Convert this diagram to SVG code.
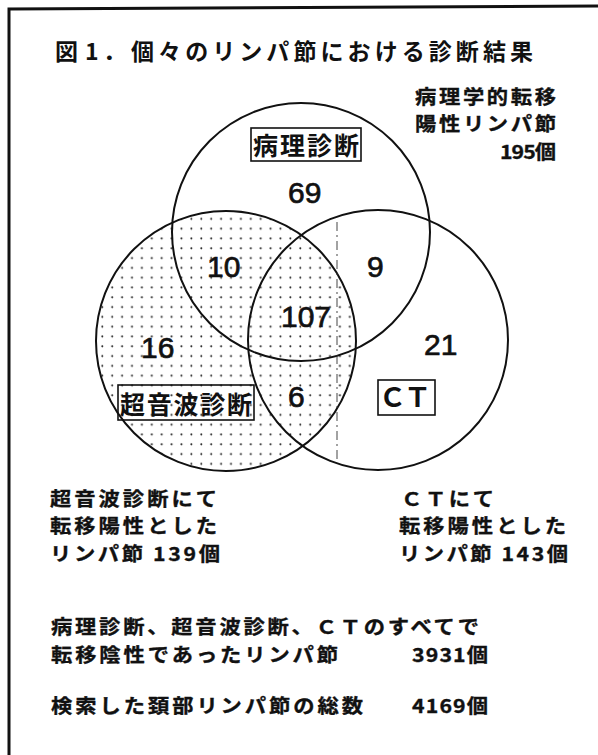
<svg xmlns="http://www.w3.org/2000/svg" width="598" height="755" viewBox="0 0 598 755">
  <style>
    .jp { font-family: "Noto Sans CJK JP", "Noto Sans CJK SC", sans-serif; font-weight: bold; fill: #111; }
    .t19 { font-size: 19px; stroke: #111; stroke-width: 0.35; }
    .lab { font-size: 25px; }
    .num { font-family: "Liberation Sans", Arial, sans-serif; font-size: 30px; fill: #111; stroke: #111; stroke-width: 0.7; }
    .circ { fill: none; stroke: #111; stroke-width: 2; }
    .box { fill: none; stroke: #111; stroke-width: 1.6; }
  </style>
  <defs>
    <pattern id="dots" patternUnits="userSpaceOnUse" x="0" y="0" width="9.9" height="9.8">
      <circle cx="3.3" cy="3.3" r="1" fill="#222"/>
    </pattern>
  </defs>
  <rect x="0" y="0" width="598" height="755" fill="#fff"/>

  <g id="frame">
    <polyline points="9,755 9,9 598,6" fill="none" stroke="#111" stroke-width="3"/>
  </g>

  <g id="title">
    <text class="jp" font-size="23" y="60"><tspan x="55">図</tspan><tspan x="85">1</tspan><tspan x="103">．</tspan><tspan x="131" textLength="402">個々のリンパ節における診断結果</tspan></text>
  </g>

  <g id="us-circle">
    <circle cx="226" cy="341" r="130" fill="url(#dots)"/>
    <circle class="circ" cx="226" cy="341" r="130"/>
  </g>
  <g id="pathology-circle">
    <circle class="circ" cx="301" cy="232" r="129"/>
  </g>
  <g id="ct-circle">
    <circle class="circ" cx="378" cy="340" r="130"/>
  </g>

  <g id="artifact">
    <line x1="337" y1="222" x2="337" y2="462" stroke="#333" stroke-width="1.2" stroke-dasharray="9 4 2 4" opacity="0.75"/>
  </g>

  <g id="label-pathology">
    <rect class="box" x="251" y="128" width="110" height="33"/>
    <text class="jp lab" x="253" y="155" textLength="106">病理診断</text>
  </g>
  <g id="label-us">
    <rect class="box" x="118" y="385" width="136" height="35"/>
    <text class="jp lab" x="120" y="414" textLength="132">超音波診断</text>
  </g>
  <g id="label-ct">
    <rect class="box" x="378" y="380" width="57" height="35"/>
    <text class="jp" x="379" y="407" font-size="27" textLength="52">ＣＴ</text>
  </g>

  <g id="counts">
    <text class="num" x="288" y="203">69</text>
    <text class="num" x="207" y="277">10</text>
    <text class="num" x="367" y="277">9</text>
    <text class="num" x="281" y="327">107</text>
    <text class="num" x="141" y="358">16</text>
    <text class="num" x="424" y="355">21</text>
    <text class="num" x="288" y="407">6</text>
  </g>

  <g id="pathology-note">
    <text class="jp t19" transform="translate(415,103.5) scale(1.12,1)" textLength="125.9">病理学的転移</text>
    <text class="jp t19" transform="translate(415,131) scale(1.12,1)" textLength="125.9">陽性リンパ節</text>
    <text class="jp t19" transform="translate(500,158.5) scale(1.12,1)" textLength="50">195個</text>
  </g>

  <g id="us-note">
    <text class="jp t19" transform="translate(50,505.5) scale(1.12,1)" textLength="149.1">超音波診断にて</text>
    <text class="jp t19" transform="translate(50,533) scale(1.12,1)" textLength="149.1">転移陽性とした</text>
    <text class="jp t19" transform="translate(50,560.5) scale(1.12,1)" textLength="151.8">リンパ節 139個</text>
  </g>

  <g id="ct-note">
    <text class="jp t19" transform="translate(401,505.5) scale(1.12,1)" textLength="83">ＣＴにて</text>
    <text class="jp t19" transform="translate(399,533) scale(1.12,1)" textLength="149.1">転移陽性とした</text>
    <text class="jp t19" transform="translate(399,560.5) scale(1.12,1)" textLength="150.9">リンパ節 143個</text>
  </g>

  <g id="summary">
    <text class="jp t19" transform="translate(51,634) scale(1.12,1)" textLength="382.1">病理診断、超音波診断、ＣＴのすべてで</text>
    <text class="jp t19" transform="translate(51,661.5) scale(1.12,1)" textLength="256.3">転移陰性であったリンパ節</text>
    <text class="jp t19" transform="translate(412,661.5) scale(1.12,1)" textLength="67.9">3931個</text>
    <text class="jp t19" transform="translate(51,713) scale(1.12,1)" textLength="278.6">検索した頚部リンパ節の総数</text>
    <text class="jp t19" transform="translate(412,713) scale(1.12,1)" textLength="67.9">4169個</text>
  </g>
</svg>
